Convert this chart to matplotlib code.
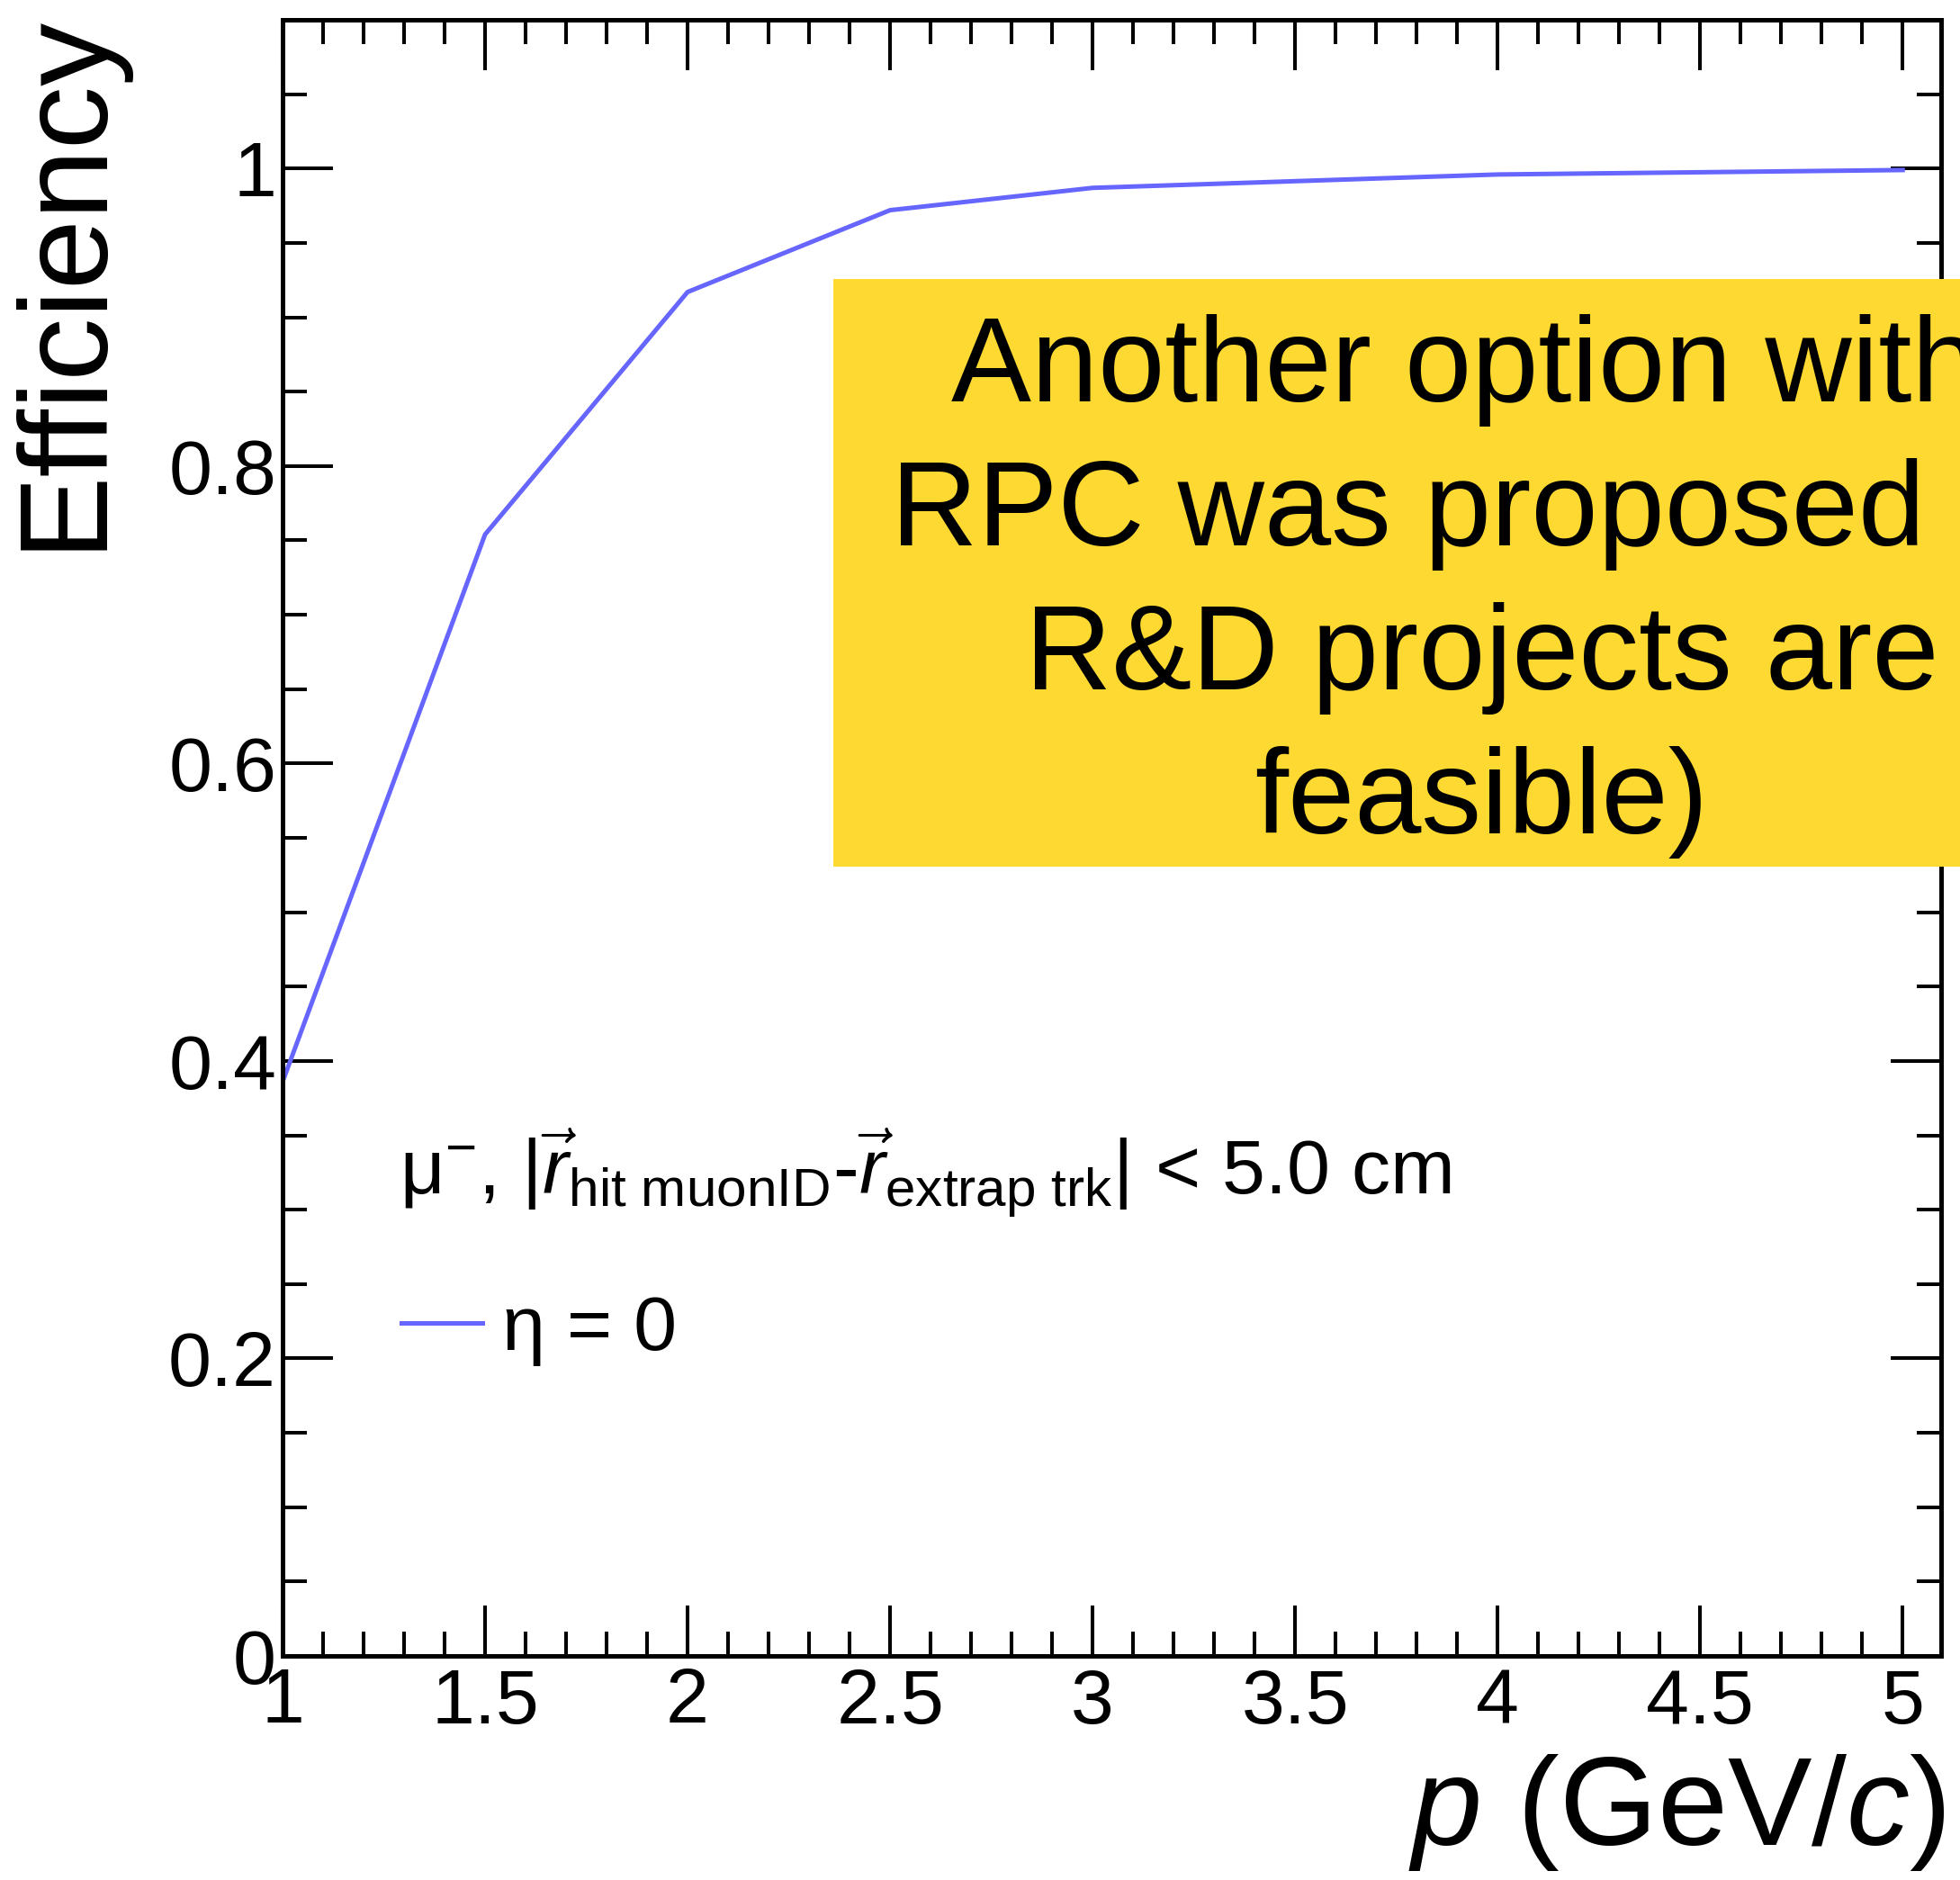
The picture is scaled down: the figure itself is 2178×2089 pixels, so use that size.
import matplotlib
matplotlib.use("Agg")
import matplotlib.pyplot as plt
from matplotlib.ticker import MultipleLocator, FuncFormatter
from matplotlib.patches import Rectangle

plt.rcParams['font.family'] = ['Liberation Sans', 'DejaVu Sans']
plt.rcParams['mathtext.fontset'] = 'custom'
plt.rcParams['mathtext.rm'] = 'Liberation Sans'
plt.rcParams['mathtext.it'] = 'Liberation Sans:italic'
plt.rcParams['mathtext.bf'] = 'Liberation Sans:bold'

# ---- data ----
momentum = [1.0, 1.5, 2.0, 2.5, 3.0, 4.0, 5.0]
efficiency = [0.386, 0.754, 0.917, 0.972, 0.987, 0.996, 0.999]
series_label = 'η = 0'
cut_text = r'μ$^{-}$, |$\vec{r}_{\mathrm{hit\ muonID}}$-$\vec{r}_{\mathrm{extrap\ trk}}$| < 5.0 cm'
box_lines = ["Another option with", "RPC was proposed (if", "R&D projects are", "feasible)"]
x_label = r'$\it{p}$ (GeV/$\it{c}$)'
y_label = 'Efficiency'

W, H = 2178, 2089
fig = plt.figure(figsize=(W / 100, H / 100), dpi=100)

def fx(px):
    return px / W

def fy(py):
    return (H - py) / H

ax = fig.add_axes([fx(314), fy(1840), fx(2157) - fx(314), fy(22) - fy(1840)])
line, = ax.plot(momentum, efficiency, color='#6666FF', lw=3.6)
ax.set_xlim(1.0, 5.095)
ax.set_ylim(0.0, 1.1)

ax.xaxis.set_major_locator(MultipleLocator(0.5))
ax.xaxis.set_minor_locator(MultipleLocator(0.1))
ax.yaxis.set_major_locator(MultipleLocator(0.2))
ax.yaxis.set_minor_locator(MultipleLocator(0.05))
fmt = FuncFormatter(lambda v, p: f'{v:g}')
ax.xaxis.set_major_formatter(fmt)
ax.yaxis.set_major_formatter(fmt)

ax.tick_params(which='both', direction='in', top=True, right=True, width=2.9, labelsize=62)
ax.tick_params(which='major', length=40)
ax.tick_params(which='minor', length=19.5)
ax.tick_params(axis='x', which='major', pad=9)
ax.tick_params(axis='y', which='major', pad=5)
for s in ax.spines.values():
    s.set_linewidth(3.6)

# axis titles (ROOT style, right/top aligned)
fig.text(fx(109), fy(13), y_label, rotation=90, rotation_mode='anchor',
         ha='right', va='baseline', fontsize=101)
fig.text(fx(2162), fy(2050), x_label, ha='right', va='baseline', fontsize=101)

# cut annotation
fig.text(fx(444), fy(1327), cut_text, ha='left', va='baseline', fontsize=62)

# legend
ax.legend(handles=[line], labels=[series_label], loc='center left',
          bbox_to_anchor=(fx(446), fy(1478)), bbox_transform=fig.transFigure,
          frameon=False, borderpad=0, borderaxespad=0, handlelength=1.05,
          handletextpad=0.25, fontsize=62)

# yellow overlay box
rect = Rectangle((fx(926), fy(963)), 0.7, fy(310) - fy(963), transform=fig.transFigure,
                 facecolor='#FED932', edgecolor='none', zorder=5)
fig.add_artist(rect)
box_x = [1057, 990, 1139, 1394]
box_y = [446, 606, 766, 926]
for txt, bx, by in zip(box_lines, box_x, box_y):
    fig.text(fx(bx), fy(by), txt, ha='left', va='baseline', fontsize=96, zorder=6)

fig.savefig('out.png', dpi=100)
